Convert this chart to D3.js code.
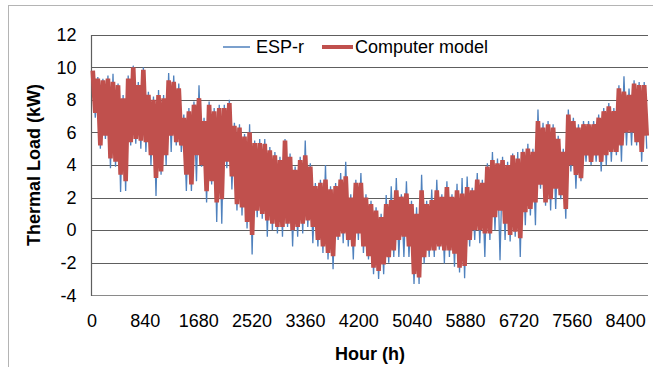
<!DOCTYPE html>
<html><head><meta charset="utf-8">
<script src="https://cdn.jsdelivr.net/npm/d3@7"></script>
<style>
body{margin:0;background:#fff}
svg{display:block}
text{font-family:"Liberation Sans",Arial,sans-serif;fill:#000}
</style>
</head><body>
<svg id="chart" width="653" height="367"></svg>
<script>
// ---- data (per ~80 h bin: peak and trough, kW) ----
const seriesNames = ["ESP-r", "Computer model"];
const yTicks = [-4, -2, 0, 2, 4, 6, 8, 10, 12];
const xTicks = [0, 840, 1680, 2520, 3360, 4200, 5040, 5880, 6720, 7560, 8400];
const hourMax = 8760;

const modelHigh = [9.8,9.3,9.2,9.3,9.1,8.9,8.1,9.3,10.0,8.9,9.85,8.3,8.0,8.3,8.1,9.2,9.1,8.7,6.9,7.3,
  7.7,8.1,6.7,7.7,7.3,7.5,7.5,7.8,6.4,6.3,5.75,6.0,5.35,5.35,5.3,4.9,4.6,4.3,5.5,4.5,
  3.7,4.3,4.6,3.9,2.7,2.9,3.1,2.5,2.7,3.1,3.3,2.0,2.9,2.9,2.0,1.6,1.2,0.8,1.6,1.85,
  2.45,2.05,2.25,1.6,1.0,2.45,1.6,1.85,2.45,2.05,2.65,2.05,2.45,2.25,2.65,2.45,3.1,2.9,3.9,4.3,
  4.1,4.3,4.0,4.6,4.4,4.8,5.0,4.8,6.7,6.3,6.5,6.3,5.6,4.8,7.1,6.7,6.3,6.5,6.5,6.5,
  6.9,7.3,7.6,7.3,8.7,8.5,8.3,9.0,8.9,8.9];
const modelLow = [7.2,5.2,5.8,4.4,4.2,3.4,3.0,5.4,5.6,5.5,5.4,4.6,3.2,3.6,4.6,5.8,5.4,5.2,3.4,2.8,
  4.6,4.0,2.4,3.0,1.7,1.9,4.2,3.3,1.6,1.4,0.5,-0.3,1.2,1.0,0.6,0.4,0.2,0.2,0.4,0.0,
  0.2,0.4,0.6,0.2,-0.6,-1.0,-1.4,-1.6,-0.4,-0.2,-0.6,-1.0,-0.2,-1.0,-1.6,-2.3,-2.5,-2.1,-1.65,-1.25,
  -0.6,-0.4,-1.0,-2.7,-2.9,-1.65,-1.25,-1.25,-1.0,-1.25,-1.25,-1.45,-2.3,-2.2,-0.6,0.0,0.0,-0.2,-0.2,0.8,
  1.2,0.4,-0.3,-0.1,-0.5,1.1,1.3,1.7,2.8,1.7,1.9,2.55,2.15,1.3,4.0,3.4,3.2,4.6,4.2,4.6,
  4.2,4.6,4.8,4.8,5.2,6.0,6.0,5.4,4.8,5.8];
const espHigh = [9.6,9.4,9.3,9.5,9.6,9.0,8.3,9.5,10.1,9.1,10.0,8.5,8.2,8.6,8.3,9.65,9.5,9.0,7.1,7.5,
  7.9,8.9,6.9,7.9,7.5,7.7,7.7,8.0,6.6,6.5,5.9,6.5,5.5,5.6,5.6,5.1,4.8,4.5,5.6,4.7,
  3.9,4.5,5.5,4.1,2.9,3.1,4.0,2.7,2.9,3.5,4.2,2.2,3.1,3.5,2.2,1.8,1.4,1.0,2.15,2.7,
  3.2,2.2,3.0,1.8,1.4,3.4,1.8,2.5,3.1,2.2,3.0,2.2,2.85,3.2,3.3,2.6,3.5,3.1,4.1,4.8,
  4.4,4.5,4.2,4.7,4.8,5.0,5.3,5.0,7.4,6.6,6.7,6.5,5.8,5.0,7.4,6.9,6.5,6.7,6.7,6.7,
  7.1,7.5,7.8,7.5,8.9,9.45,8.7,9.2,9.1,9.1];
const espLow = [6.9,5.0,5.6,3.8,3.9,2.35,2.4,5.2,5.3,5.0,4.8,4.0,2.1,3.4,4.0,4.8,5.2,4.8,2.4,2.4,
  3.0,3.9,1.7,2.8,0.5,0.4,3.8,2.5,1.2,0.9,0.1,-1.5,0.8,0.7,-0.4,0.0,-0.2,-0.4,0.2,-1.0,
  -0.4,-0.2,0.2,-0.8,-1.0,-1.4,-1.8,-2.4,-0.6,-0.8,-1.0,-1.8,-0.6,-1.4,-1.8,-2.7,-3.0,-2.7,-2.0,-1.65,
  -1.65,-1.65,-1.65,-3.3,-3.3,-2.05,-1.65,-1.65,-1.2,-2.05,-1.65,-2.25,-2.6,-2.95,-1.0,-0.6,-0.8,-1.65,-0.6,0.0,
  -1.85,-0.6,-0.7,-0.4,-1.65,0.3,0.9,0.3,2.55,1.5,1.2,1.3,1.9,0.7,3.6,2.55,3.0,4.2,4.0,4.2,
  3.6,4.0,4.2,4.6,4.2,5.2,5.2,5.2,4.2,5.0];

// ---- build peak/trough sequences ----
function toPoints(high, low) {
  const n = high.length, step = hourMax / n, pts = [];
  for (let i = 0; i < n; i++) {
    pts.push({h: i * step + step * 0.25, v: high[i]});
    pts.push({h: i * step + step * 0.75, v: low[i]});
  }
  return pts;
}
const espPts = toPoints(espHigh, espLow);
const modelPts = toPoints(modelHigh, modelLow);

const svg = d3.select("#chart");
const L = 91.5, R = 648, T = 34.7, B = 295.3;
const x = d3.scaleLinear().domain([0, hourMax]).range([L, R]);
const y = d3.scaleLinear().domain([-4, 12]).range([B, T]);

// outer frame
svg.append("rect").attr("x", 8.5).attr("y", 5.5).attr("width", 700).attr("height", 420)
  .attr("fill", "none").attr("stroke", "#b4b4b4").attr("stroke-width", 1);

// gridlines
svg.append("g").selectAll("line").data(yTicks.filter(t => t > -4)).join("line")
  .attr("x1", L).attr("x2", R)
  .attr("y1", d => Math.round(y(d)) + 0.5).attr("y2", d => Math.round(y(d)) + 0.5)
  .attr("stroke", "#5e5e5e").attr("stroke-width", 1.2);

// axes lines
svg.append("line").attr("x1", L).attr("x2", R).attr("y1", Math.round(B) + 0.5).attr("y2", Math.round(B) + 0.5)
  .attr("stroke", "#8a8a8a").attr("stroke-width", 1.2);
svg.append("line").attr("x1", L).attr("x2", L).attr("y1", Math.round(T)).attr("y2", Math.round(B) + 1)
  .attr("stroke", "#5e5e5e").attr("stroke-width", 1.2);

// axis labels
const yAxis = svg.append("g").attr("transform", `translate(${L},0)`)
  .call(d3.axisLeft(y).tickValues(yTicks).tickSize(0).tickPadding(15).tickFormat(d => String(d)));
yAxis.select(".domain").remove();
yAxis.selectAll("text").attr("font-size", 18).attr("font-family", "Liberation Sans, Arial, sans-serif").attr("fill", "#000");

const xAxis = svg.append("g").attr("transform", `translate(0,${B})`)
  .call(d3.axisBottom(x).tickValues(xTicks).tickSize(0).tickPadding(19).tickFormat(d => String(d)));
xAxis.select(".domain").remove();
xAxis.selectAll("text").attr("font-size", 18).attr("font-family", "Liberation Sans, Arial, sans-serif").attr("fill", "#000");

// series
const line = d3.line().x(d => x(d.h)).y(d => y(d.v));
svg.append("path").datum(espPts).attr("d", line)
  .attr("fill", "none").attr("stroke", "#4F81BD").attr("stroke-width", 1.3).attr("stroke-linejoin", "bevel");
svg.append("path").datum(modelPts).attr("d", line)
  .attr("fill", "none").attr("stroke", "#C0504D").attr("stroke-width", 4.6).attr("stroke-linejoin", "bevel");

// titles
svg.append("text").attr("transform", "translate(40,165) rotate(-90)")
  .attr("text-anchor", "middle").attr("font-size", 18).attr("font-weight", "bold")
  .text("Thermal Load (kW)");
svg.append("text").attr("x", 370).attr("y", 359.5)
  .attr("text-anchor", "middle").attr("font-size", 18).attr("font-weight", "bold")
  .text("Hour (h)");

// legend
const leg = svg.append("g");
leg.append("line").attr("x1", 223).attr("x2", 250).attr("y1", 47).attr("y2", 47)
  .attr("stroke", "#4F81BD").attr("stroke-width", 1.5);
leg.append("text").attr("x", 256).attr("y", 53.3).attr("font-size", 18).text(seriesNames[0]);
leg.append("line").attr("x1", 322).attr("x2", 353).attr("y1", 47).attr("y2", 47)
  .attr("stroke", "#C0504D").attr("stroke-width", 4);
leg.append("text").attr("x", 355).attr("y", 53.3).attr("font-size", 18).text(seriesNames[1]);
</script>
</body></html>
